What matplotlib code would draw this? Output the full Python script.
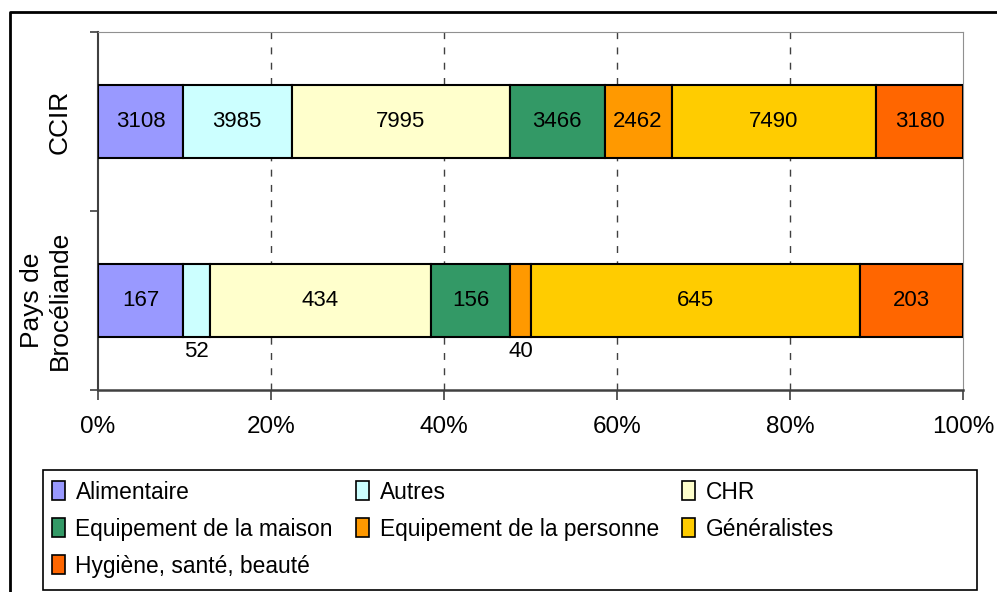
import matplotlib
matplotlib.use("Agg")
import matplotlib.pyplot as plt
from matplotlib.patches import Patch, Rectangle
from matplotlib.lines import Line2D

plt.rcParams['font.family'] = ['Liberation Sans', 'DejaVu Sans']

categories = ["Pays de\nBrocéliande", "CCIR"]
series_names = ["Alimentaire", "Autres", "CHR", "Equipement de la maison",
                "Equipement de la personne", "Généralistes", "Hygiène, santé, beauté"]
colors = ["#9999FF", "#CCFFFF", "#FFFFCC", "#339966", "#FF9900", "#FFCC00", "#FF6600"]
ccir = [3108, 3985, 7995, 3466, 2462, 7490, 3180]
pays = [167, 52, 434, 156, 40, 645, 203]
values = [pays, ccir]
xticks = [0, 20, 40, 60, 80, 100]
xticklabels = ["0%", "20%", "40%", "60%", "80%", "100%"]

W, H = 997, 592
fig = plt.figure(figsize=(W / 100, H / 100), dpi=100)
ax = fig.add_axes([98 / W, 1 - 390 / H, (963 - 98) / W, (390 - 32) / H])

ypos = [0.5, 1.5]
bar_h = 0.41
for ci, vals in enumerate(values):
    total = sum(vals)
    left = 0.0
    for si, v in enumerate(vals):
        w = v / total * 100
        ax.barh(ypos[ci], w, left=left, height=bar_h, color=colors[si],
                edgecolor="black", linewidth=1.5, zorder=3)
        cx = left + w / 2
        if w < 3.5:
            ax.text(cx, ypos[ci] - bar_h / 2 - 0.02, str(v), ha="center", va="top",
                    fontsize=16, zorder=4)
        else:
            ax.text(cx, ypos[ci], str(v), ha="center", va="center", fontsize=16, zorder=4)
        left += w

ax.set_xlim(0, 100)
ax.set_ylim(0, 2)
ax.set_xticks(xticks)
ax.set_xticklabels(xticklabels, fontsize=17.5)
ax.set_yticks([0, 1, 2])
ax.set_yticklabels([])
ax.set_yticks(ypos, minor=True)
ax.set_yticklabels(categories, minor=True, rotation=90, fontsize=19,
                   va="center", ha="right", multialignment="center")
ax.tick_params(axis="y", which="minor", length=0, pad=19)
ax.tick_params(axis="y", which="major", length=6, width=1.2, color="#404040")
ax.tick_params(axis="x", length=7, width=1.2, color="#404040", pad=12)

for x in xticks[1:-1]:
    ax.axvline(x, color="#404040", linestyle=(0, (5, 6)), linewidth=1, zorder=1)

ax.spines["top"].set_color("#909090")
ax.spines["right"].set_color("#909090")
ax.spines["left"].set_color("#404040")
ax.spines["bottom"].set_color("#404040")
ax.spines["left"].set_linewidth(1.5)
ax.spines["bottom"].set_linewidth(1.8)

# legend (row-major order emulated with column-major fill)
order = [0, 3, 6, 1, 4, 2, 5]
handles = [Patch(facecolor=colors[i], edgecolor="black", linewidth=1.2) for i in order]
labels = [series_names[i] for i in order]
fig.legend(handles, labels, ncol=3, frameon=False, fontsize=16.4,
           loc="upper left", bbox_to_anchor=(47 / W, 1 - 476 / H),
           handlelength=0.6, handleheight=0.9, handletextpad=0.45,
           columnspacing=1.0, labelspacing=0.62, borderaxespad=0, borderpad=0.2)
fig.patches.append(Rectangle((43 / W, 1 - 590 / H), (977 - 43) / W, (590 - 470) / H,
                             transform=fig.transFigure, fill=False,
                             edgecolor="black", linewidth=1.2))

# outer frame
fig.lines.append(Line2D([10 / W, 10 / W, 1.0], [0, 1 - 12 / H, 1 - 12 / H],
                        transform=fig.transFigure, color="black", linewidth=2))

fig.savefig("out.png", dpi=100)
